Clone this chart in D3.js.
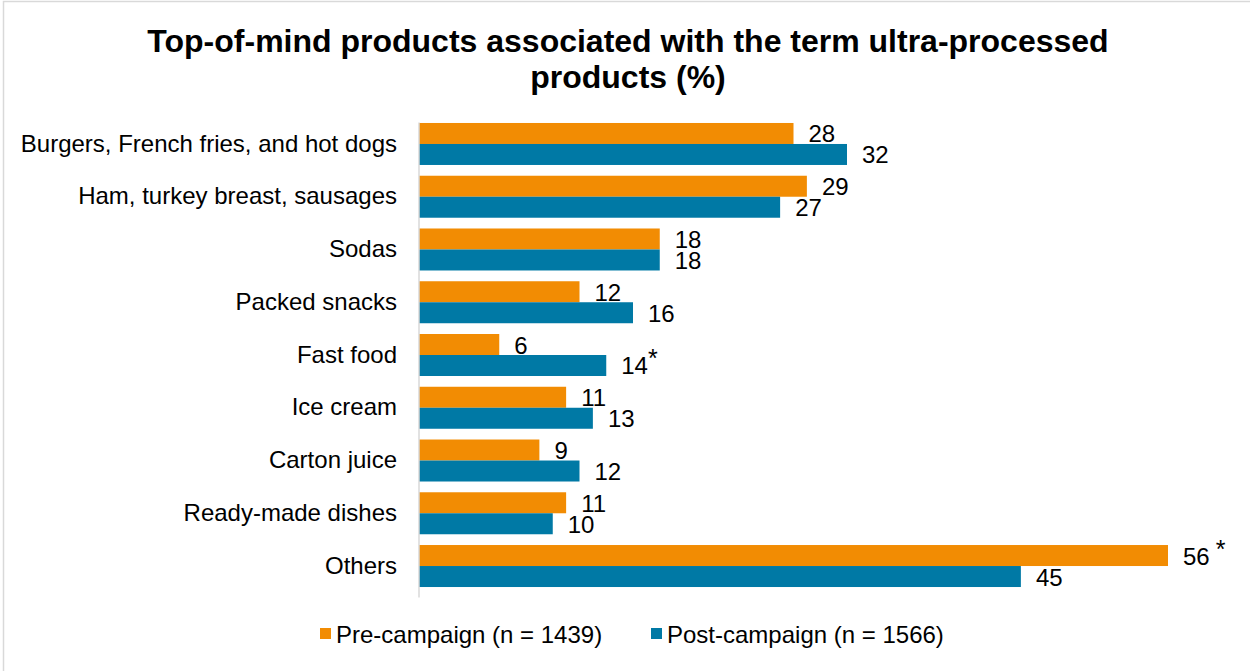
<!DOCTYPE html>
<html>
<head>
<meta charset="utf-8">
<script src="https://cdn.jsdelivr.net/npm/d3@7"></script>
<style>
  html, body { margin: 0; padding: 0; background: #fff; }
  svg { display: block; font-family: "Liberation Sans", Arial, sans-serif; }
</style>
</head>
<body>
<svg id="chart" width="1250" height="671"></svg>
<script>
// Product categories and shares (%) per survey wave
const categories = [
  "Burgers, French fries, and hot dogs",
  "Ham, turkey breast, sausages",
  "Sodas",
  "Packed snacks",
  "Fast food",
  "Ice cream",
  "Carton juice",
  "Ready-made dishes",
  "Others"
];
const preCampaign  = [28, 29, 18, 12, 6, 11, 9, 11, 56];
const postCampaign = [32, 27, 18, 16, 14, 13, 12, 10, 45];
// Significant differences flagged with an asterisk
const preFlags  = ["", "", "", "", "", "", "", "", "*"];
const postFlags = ["", "", "", "", "*", "", "", "", ""];
const seriesNames = ["Pre-campaign (n = 1439)", "Post-campaign (n = 1566)"];
const seriesColors = ["#F28C03", "#0079A5"];
const titleLines = ["Top-of-mind products associated with the term ultra-processed", "products (%)"];

const svg = d3.select("#chart");
const W = 1250, H = 671;

// Outer frame
svg.append("rect")
  .attr("x", 3.5).attr("y", 1.5)
  .attr("width", W + 10).attr("height", H + 10)
  .attr("fill", "none").attr("stroke", "#d9d9d9").attr("stroke-width", 1.5);

// Title
svg.append("g").selectAll("text").data(titleLines).join("text")
  .attr("x", 628).attr("y", (d, i) => 52 + i * 36)
  .attr("text-anchor", "middle")
  .attr("font-size", 32).attr("font-weight", "bold").attr("fill", "#000")
  .text(d => d);

const plot = { left: 419, top: 117.6, bottom: 592.4 };

const x = d3.scaleLinear().domain([0, 56]).range([plot.left, 1168]);
const y0 = d3.scaleBand().domain(categories).range([plot.top, plot.bottom]).paddingInner(0.204).paddingOuter(0.102);
const y1 = d3.scaleBand().domain([0, 1]).range([0, y0.bandwidth()]);

const rows = categories.map((c, i) => ({
  cat: c,
  vals: [
    { s: 0, v: preCampaign[i], flag: preFlags[i] },
    { s: 1, v: postCampaign[i], flag: postFlags[i] }
  ]
}));

const groups = svg.append("g").selectAll("g").data(rows).join("g")
  .attr("transform", d => `translate(0,${y0(d.cat)})`);

groups.selectAll("rect").data(d => d.vals).join("rect")
  .attr("x", x(0))
  .attr("y", d => y1(d.s))
  .attr("width", d => x(d.v) - x(0))
  .attr("height", y1.bandwidth())
  .attr("fill", d => seriesColors[d.s]);

const lbl = groups.selectAll("text.val").data(d => d.vals).join("text")
  .attr("class", "val")
  .attr("x", d => x(d.v) + 15)
  .attr("y", d => y1(d.s) + y1.bandwidth() / 2 + 9)
  .attr("font-size", 24).attr("fill", "#000");
lbl.append("tspan").text(d => d.v);
lbl.filter(d => d.flag).append("tspan")
  .attr("dx", d => d.s === 0 ? 6 : 0)
  .attr("dy", -7)
  .attr("font-size", 25)
  .text(d => d.flag);

// Category axis
const yAxis = d3.axisLeft(y0).tickSize(0).tickPadding(22);
const ag = svg.append("g").attr("transform", `translate(${plot.left},0)`).call(yAxis);
ag.select(".domain").attr("stroke", "#d9d9d9").attr("stroke-width", 1.5)
  .attr("d", `M0,${plot.top + 5}V${plot.bottom + 5}`);
ag.selectAll("text").attr("font-size", 24).attr("fill", "#000")
  .attr("font-family", "'Liberation Sans', Arial, sans-serif");

// Legend
const legendX = [320, 651];
const lg = svg.append("g").selectAll("g").data(seriesNames).join("g")
  .attr("transform", (d, i) => `translate(${legendX[i]},628)`);
lg.append("rect").attr("width", 11).attr("height", 11).attr("fill", (d, i) => seriesColors[i]);
lg.append("text").attr("x", 16).attr("y", 15).attr("font-size", 24).attr("fill", "#000").text(d => d);
</script>
</body>
</html>
